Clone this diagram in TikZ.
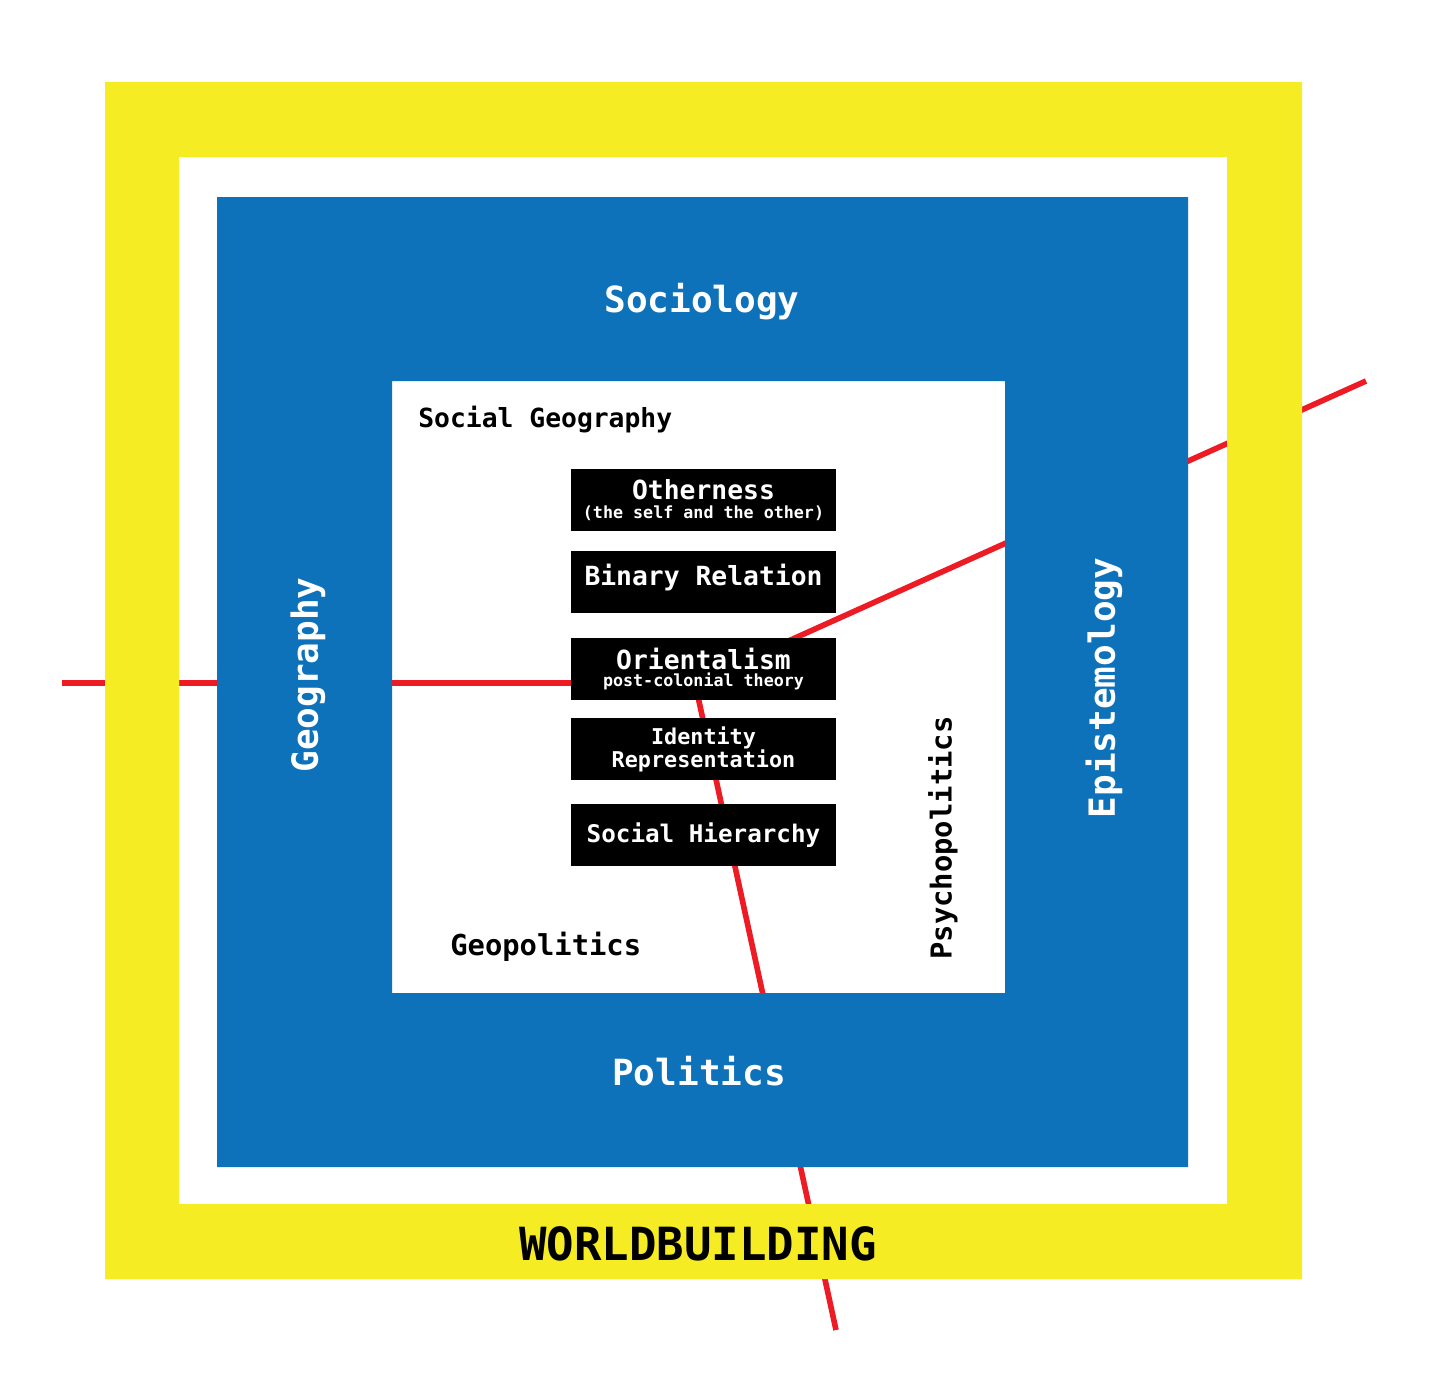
\documentclass[tikz,border=0pt]{standalone}
\usepackage{fontspec}
\setmonofont{DejaVu Sans Mono}

\definecolor{wbyellow}{HTML}{F5EC23}
\definecolor{wbblue}{HTML}{0D72B9}
\definecolor{wbred}{HTML}{ED1C24}

\tikzset{
  field/.style={text=white, font=\ttfamily\bfseries\fontsize{20.5}{24}\selectfont},
  subfield/.style={text=black, inner sep=0pt, font=\ttfamily\bfseries\fontsize{15}{18}\selectfont},
  topic/.style={fill=black, text=white, minimum width=5.3cm, minimum height=1.24cm,
    inner sep=0pt, align=center, font=\ttfamily\bfseries\fontsize{15}{16}\selectfont},
  thread/.style={draw=wbred, line width=3.2pt},
}

\begin{document}
\begin{tikzpicture}[x=0.02cm, y=-0.02cm]
  \useasboundingbox (0,0) rectangle (1439,1386);

  % red threads, running under everything else
  \coordinate (hub) at (695,683);
  \coordinate (west) at (62,683);
  \coordinate (northeast) at (1366,381);
  \coordinate (south) at (836,1330);
  \draw[thread] (hub) -- (west);
  \draw[thread] (hub) -- (northeast);
  \draw[thread] (hub) -- (south);

  % frames
  \fill[wbyellow, even odd rule] (105,82) rectangle (1302,1279) (179,157) rectangle (1227,1204);
  \fill[wbblue, even odd rule] (217,197) rectangle (1188,1167) (392,381) rectangle (1005,993);

  \node[field] (sociology) at (702,302) {Sociology};
  \node[field] (politics) at (699,1071) {Politics};
  \node[field, rotate=90] (geography) at (308,675) {Geography};
  \node[field, rotate=90] (epistemology) at (1104,688) {Epistemology};
  \node[text=black, font=\ttfamily\bfseries\fontsize{26}{30}\selectfont] (worldbuilding) at (698,1244) {WORLDBUILDING};

  \node[subfield, anchor=base west] (socgeo) at (418,427) {Social Geography};
  \node[subfield, anchor=base west, font=\ttfamily\bfseries\fontsize{16.4}{18}\selectfont] (geopol) at (450,955) {Geopolitics};
  \node[subfield, rotate=90, font=\ttfamily\bfseries\fontsize{16.4}{18}\selectfont] (psychopol) at (943,838) {Psychopolitics};

  % topic boxes
  \node[topic] (otherness) at (703.5,500) {Otherness\\[-5pt]{\fontsize{9.5}{10}\selectfont(the self and the other)}};
  \node[topic, text depth=8pt] (binary) at (703.5,582) {Binary Relation};
  \node[topic] (orientalism) at (703.5,669) {Orientalism\\[-6pt]{\fontsize{9.5}{10}\selectfont post-colonial theory}};
  \node[topic, font=\ttfamily\bfseries\fontsize{12.4}{13}\selectfont] (identity) at (703.5,749) {Identity\\Representation};
  \node[topic, font=\ttfamily\bfseries\fontsize{13.8}{15}\selectfont] (hierarchy) at (703.5,835) {Social Hierarchy};
\end{tikzpicture}
\end{document}
